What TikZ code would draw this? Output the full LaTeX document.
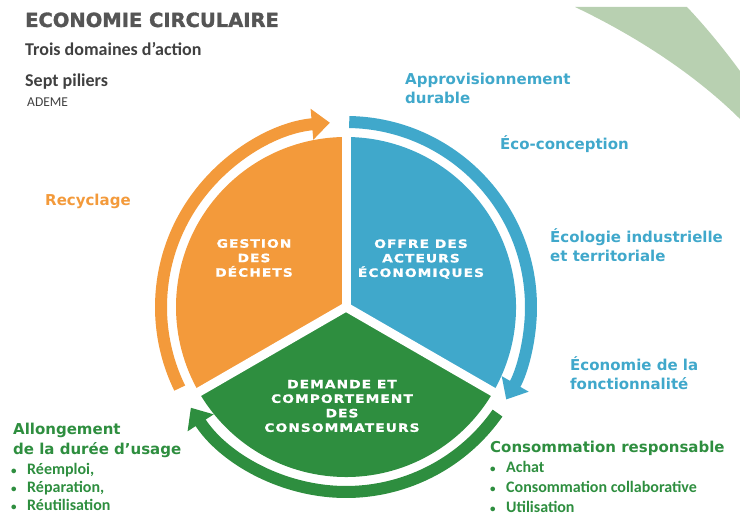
\documentclass[tikz,border=0pt]{standalone}
\usepackage{fontspec}
\setmainfont{Carlito}
\newfontfamily\heavyfont{DejaVu Sans}
\newfontfamily\titlefont{DejaVu Sans}[FakeBold=1.6]
\newfontfamily\sectorfont{DejaVu Sans}[FakeStretch=1.2,LetterSpace=9,FakeBold=1.2]
\usetikzlibrary{arrows.meta}
\definecolor{orangeEC}{HTML}{F39A3B}
\definecolor{blueEC}{HTML}{40A8CB}
\definecolor{greenEC}{HTML}{2E8E3F}
\definecolor{titleEC}{HTML}{555555}
\definecolor{subEC}{HTML}{404040}
\definecolor{swooshEC}{HTML}{B8D0B1}
\newcommand{\puce}{\makebox[16pt][l]{\fontsize{11}{11}\selectfont•}}

\begin{document}
\begin{tikzpicture}[
    x=1pt, y=1pt,
    sector/.style={
        text=white,
        align=center,
        inner sep=0pt,
        font=\sectorfont\bfseries\fontsize{11.5}{14.5}\selectfont
      },
    pilier/.style={
        anchor=base west,
        align=left,
        inner sep=0pt,
        font=\heavyfont\bfseries\fontsize{15}{19}\selectfont
      },
    puces/.style={
        anchor=base west,
        align=left,
        inner sep=0pt,
        text=greenEC,
        font=\bfseries\fontsize{16}{19}\selectfont
      },
    entete/.style={
        anchor=base west,
        inner sep=0pt,
        text=subEC
      },
    anneau/.style={line width=12pt, -{Triangle[length=18pt,width=30pt]}},
    fente/.style={white, line width=9pt}
    ]
    \useasboundingbox (0,0) rectangle (740,518);

    % ============= BANDEAU (HAUT DROITE) ==================
    \begin{scope}
      \clip (0,0) rectangle (740,518);
      \fill[swooshEC] (575,511) -- (687,511)
        .. controls (705,492) and (725,468) .. (745,440) -- (745,394)
        .. controls (700,440) and (640,480) .. (575,511) -- cycle;
    \end{scope}

    % ============= TITRE ==================
    \node[entete, text=titleEC, font=\titlefont\bfseries\fontsize{19.5}{22}\selectfont]
      (titre) at (25,491) {ECONOMIE CIRCULAIRE};
    \node[entete, font=\bfseries\fontsize{18}{20}\selectfont]
      (domaines) at (25,462) {Trois domaines d’action};
    \node[entete, font=\bfseries\fontsize{18}{20}\selectfont]
      (piliers) at (25,431) {Sept piliers};
    \node[entete, font=\fontsize{13.5}{16}\selectfont]
      (ademe) at (27,411) {ADEME};

    % ============= CERCLE ==================
    \coordinate (C) at (346,211);

    % -------------------------------
    \fill[orangeEC] (C) -- ++(90:170) arc[start angle=90, end angle=210, radius=170] -- cycle;
    \fill[greenEC] (C) -- ++(210:170) arc[start angle=210, end angle=330, radius=170] -- cycle;
    \fill[blueEC] (C) -- ++(330:170) arc[start angle=-30, end angle=90, radius=170] -- cycle;
    \foreach \a in {90,210,330}
      \draw[fente] (C) -- ++(\a:175);
    % -------------------------------

    % -------------------------------
    \draw[anneau, orangeEC] ([shift={(C)}]206:185) arc[start angle=206, end angle=95, radius=185];
    \draw[anneau, blueEC] ([shift={(C)}]89:185) arc[start angle=89, end angle=-30, radius=185];
    \draw[anneau, greenEC] ([shift={(C)}]-35:185) arc[start angle=-35, end angle=-147, radius=185];
    % -------------------------------

    % -------------------------------
    \node[sector] (gestion) at (254,260) {GESTION\\DES\\DÉCHETS};
    \node[sector] (offre) at (421,259) {OFFRE DES\\ACTEURS\\ÉCONOMIQUES};
    \node[sector] (demande) at (342,112) {DEMANDE ET\\COMPORTEMENT\\DES\\CONSOMMATEURS};
    % -------------------------------

    % ============= PILIERS ==================
    \node[pilier, text=blueEC] (appro) at (405,414) {Approvisionnement\\durable};
    \node[pilier, text=blueEC] (ecoconc) at (500,368) {Éco-conception};
    \node[pilier, text=blueEC] (ecolindus) at (550,256) {Écologie industrielle\\et territoriale};
    \node[pilier, text=blueEC] (fonction) at (570,128) {Économie de la\\fonctionnalité};
    \node[pilier, text=orangeEC] (recyclage) at (45,312) {Recyclage};

    % -------------------------------
    \node[pilier, text=greenEC, font=\heavyfont\bfseries\fontsize{15}{20}\selectfont]
      (allong) at (13,63) {Allongement\\de la durée d’usage};
    \node[puces, font=\bfseries\fontsize{16}{18}\selectfont]
      (reemploi) at (11,7) {\puce Réemploi,\\\puce Réparation,\\\puce Réutilisation};
    % -------------------------------

    % -------------------------------
    \node[pilier, text=greenEC] (conso) at (490,65) {Consommation responsable};
    \node[puces, font=\bfseries\fontsize{16}{20}\selectfont]
      (achat) at (490,5) {\puce Achat\\\puce Consommation collaborative\\\puce Utilisation};
    % -------------------------------

  \end{tikzpicture}
\end{document}
